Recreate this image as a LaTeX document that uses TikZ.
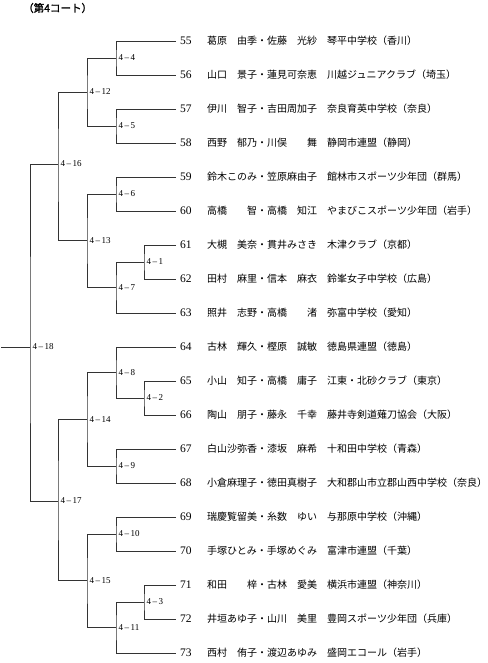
\documentclass[tikz,border=0pt]{standalone}
\usepackage{fontspec}
\setmainfont{Liberation Serif}
\newfontfamily\jp{Noto Sans CJK JP}
\newfontfamily\jpb[FakeBold=1.6]{Noto Sans CJK JP}
\begin{document}
\begin{tikzpicture}[x=1pt,y=-1pt,
  num/.style={anchor=west,inner sep=0pt,font=\fontsize{11.5}{11.5}\selectfont},
  nm/.style={anchor=west,inner sep=0pt,font=\jp\fontsize{10}{10}\selectfont},
  lab/.style={anchor=west,inner sep=0pt,xshift=2.5pt,font=\fontsize{9}{9}\selectfont},
  br/.style={draw=black!80,line width=0.7pt},
  ttl/.style={anchor=west,inner sep=0pt,font=\jpb\fontsize{10.5}{10.5}\selectfont}]
\useasboundingbox (0,0) rectangle (487,663);
\node[ttl] (title) at (23,8) {（第4コート）};
% rows
\foreach \n/\i/\a/\b in {
 55/0/葛原　由季・佐藤　光紗/琴平中学校（香川）,
 56/1/山口　景子・蓮見可奈恵/川越ジュニアクラブ（埼玉）,
 57/2/伊川　智子・吉田周加子/奈良育英中学校（奈良）,
 58/3/西野　郁乃・川俣　　舞/静岡市連盟（静岡）,
 59/4/鈴木このみ・笠原麻由子/館林市スポーツ少年団（群馬）,
 60/5/高橋　　智・高橋　知江/やまびこスポーツ少年団（岩手）,
 61/6/大槻　美奈・貫井みさき/木津クラブ（京都）,
 62/7/田村　麻里・信本　麻衣/鈴峯女子中学校（広島）,
 63/8/照井　志野・高橋　　渚/弥富中学校（愛知）,
 64/9/古林　輝久・樫原　誠敏/徳島県連盟（徳島）,
 65/10/小山　知子・高橋　庸子/江東・北砂クラブ（東京）,
 66/11/陶山　朋子・藤永　千幸/藤井寺剣道薙刀協会（大阪）,
 67/12/白山沙弥香・漆坂　麻希/十和田中学校（青森）,
 68/13/小倉麻理子・徳田真樹子/大和郡山市立郡山西中学校（奈良）,
 69/14/瑞慶覧留美・糸数　ゆい/与那原中学校（沖縄）,
 70/15/手塚ひとみ・手塚めぐみ/富津市連盟（千葉）,
 71/16/和田　　梓・古林　愛美/横浜市連盟（神奈川）,
 72/17/井垣あゆ子・山川　美里/豊岡スポーツ少年団（兵庫）,
 73/18/西村　侑子・渡辺あゆみ/盛岡エコール（岩手）}{
  \pgfmathsetmacro{\yy}{41+34*\i}
  \coordinate (e\n) at (176,\yy);
  \node[num] (n\n) at (180,\yy) {\n};
  \node[nm] (m\n) at (207,\yy) {\a};
  \node[nm] (s\n) at (327,\yy) {\b};
}
% junctions
\coordinate (j1) at (144,262);
\coordinate (j2) at (144,398);
\coordinate (j3) at (144,602);
\coordinate (j4) at (116,58);
\coordinate (j5) at (116,126);
\coordinate (j6) at (116,194);
\coordinate (j7) at (116,287.5);
\coordinate (j8) at (116,372.5);
\coordinate (j9) at (116,466);
\coordinate (j10) at (116,534);
\coordinate (j11) at (116,627.5);
\coordinate (j12) at (87,92);
\coordinate (j13) at (87,240.75);
\coordinate (j14) at (87,419.25);
\coordinate (j15) at (87,580.75);
\coordinate (j16) at (58,164);
\coordinate (j17) at (58,501);
\coordinate (j18) at (30,347);
\coordinate (rootend) at (1,347);
% brackets
\draw[br] (e55) -| (j4) |- (e56);
\draw[br] (e57) -| (j5) |- (e58);
\draw[br] (e59) -| (j6) |- (e60);
\draw[br] (e61) -| (j1) |- (e62);
\draw[br] (j1) -| (j7) |- (e63);
\draw[br] (e64) -| (j8) |- (j2);
\draw[br] (e65) -| (j2) |- (e66);
\draw[br] (e67) -| (j9) |- (e68);
\draw[br] (e69) -| (j10) |- (e70);
\draw[br] (e71) -| (j3) |- (e72);
\draw[br] (j3) -| (j11) |- (e73);
\draw[br] (j4) -| (j12) |- (j5);
\draw[br] (j6) -| (j13) |- (j7);
\draw[br] (j8) -| (j14) |- (j9);
\draw[br] (j10) -| (j15) |- (j11);
\draw[br] (j12) -| (j16) |- (j13);
\draw[br] (j14) -| (j17) |- (j15);
\draw[br] (j16) -| (j18) |- (j17);
\draw[br] (rootend) -- (j18);
% labels
\foreach \k in {1,...,18}{
  \node[lab] (l\k) at (j\k) {4\,–\,\k};
}
\end{tikzpicture}
\end{document}
